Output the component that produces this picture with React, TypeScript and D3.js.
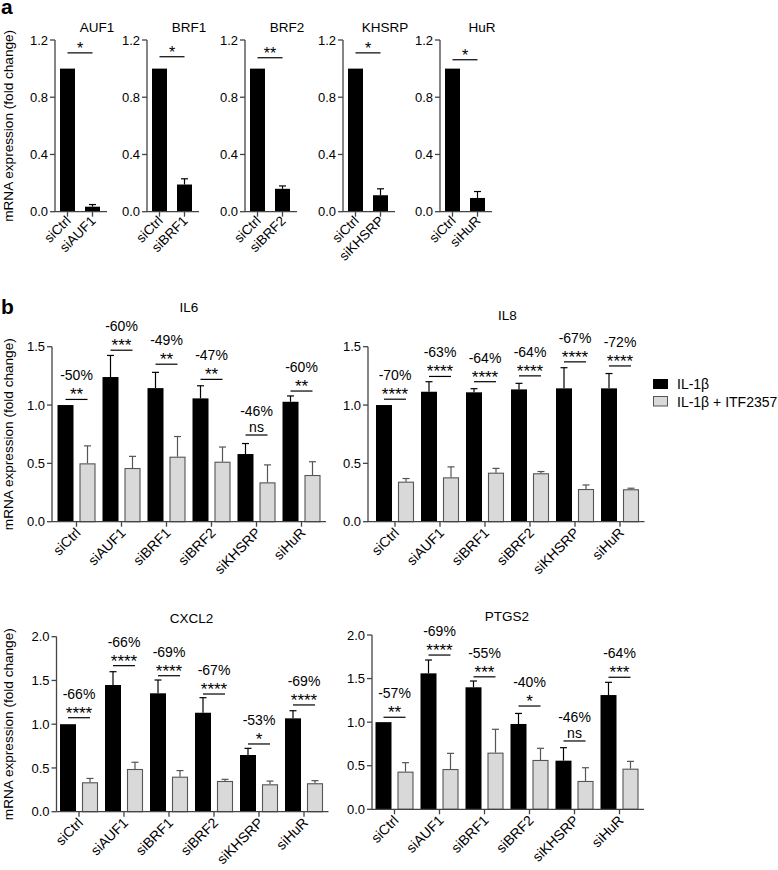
import React from 'react';
import * as d3 from 'd3';

const FONT = '"Liberation Sans", Arial, Helvetica, sans-serif';

// ---------- shared categories ----------
const groups = ['siCtrl', 'siAUF1', 'siBRF1', 'siBRF2', 'siKHSRP', 'siHuR'];
const seriesNames = ['IL-1β', 'IL-1β + ITF2357'];

// ---------- panel a ----------
const kdGenes = ['AUF1', 'BRF1', 'BRF2', 'KHSRP', 'HuR'];
const kdLabels = ['siAUF1', 'siBRF1', 'siBRF2', 'siKHSRP', 'siHuR'];
const kdCtrl = [1.0, 1.0, 1.0, 1.0, 1.0];
const kdValues = [0.035, 0.19, 0.16, 0.115, 0.096];
const kdErrors = [0.015, 0.04, 0.02, 0.045, 0.045];
const kdSig = ['*', '*', '**', '*', '*'];
const kdBracket = [1.11, 1.083, 1.076, 1.11, 1.062];
const aTicks = [0, 0.4, 0.8, 1.2];

// ---------- panel b : IL6 ----------
const il6Ctrl = [1.0, 1.24, 1.145, 1.057, 0.58, 1.028];
const il6CtrlErr = [0, 0.185, 0.135, 0.108, 0.09, 0.05];
const il6Itf = [0.5, 0.46, 0.557, 0.514, 0.337, 0.4];
const il6ItfErr = [0.15, 0.1, 0.173, 0.126, 0.15, 0.114];
const il6Pct = ['-50%', '-60%', '-49%', '-47%', '-46%', '-60%'];
const il6Sig = ['**', '***', '**', '**', 'ns', '**'];
const il6Bracket = [1.048, 1.47, 1.35, 1.22, 0.743, 1.12];

// ---------- panel b : IL8 ----------
const il8Ctrl = [1.0, 1.114, 1.109, 1.134, 1.143, 1.143];
const il8CtrlErr = [0, 0.086, 0.031, 0.052, 0.177, 0.127];
const il8Itf = [0.343, 0.38, 0.42, 0.415, 0.28, 0.278];
const il8ItfErr = [0.027, 0.09, 0.037, 0.015, 0.035, 0.009];
const il8Pct = ['-70%', '-63%', '-64%', '-64%', '-67%', '-72%'];
const il8Sig = ['****', '****', '****', '****', '****', '****'];
const il8Bracket = [1.05, 1.245, 1.2, 1.25, 1.37, 1.335];

// ---------- panel b : CXCL2 ----------
const cxCtrl = [1.0, 1.448, 1.353, 1.131, 0.648, 1.067];
const cxCtrlErr = [0, 0.152, 0.152, 0.172, 0.076, 0.087];
const cxItf = [0.336, 0.488, 0.4, 0.351, 0.313, 0.325];
const cxItfErr = [0.044, 0.077, 0.07, 0.019, 0.037, 0.03];
const cxPct = ['-66%', '-66%', '-69%', '-67%', '-53%', '-69%'];
const cxSig = ['****', '****', '****', '****', '*', '****'];
const cxBracket = [1.074, 1.669, 1.554, 1.345, 0.774, 1.22];

// ---------- panel b : PTGS2 ----------
const ptCtrl = [1.0, 1.56, 1.4, 0.979, 0.558, 1.311];
const ptCtrlErr = [0, 0.153, 0.072, 0.121, 0.149, 0.146];
const ptItf = [0.432, 0.462, 0.65, 0.566, 0.325, 0.466];
const ptItfErr = [0.103, 0.18, 0.268, 0.134, 0.152, 0.084];
const ptPct = ['-57%', '-69%', '-55%', '-40%', '-46%', '-64%'];
const ptSig = ['**', '****', '***', '*', 'ns', '***'];
const ptBracket = [1.056, 1.77, 1.52, 1.185, 0.784, 1.515];

const ticks15 = [0, 0.5, 1.0, 1.5];
const ticks20 = [0, 0.5, 1.0, 1.5, 2.0];

// ---------- layout ----------
const AXIS = '#444';
const GRAY_FILL = '#d9d9d9';
const GRAY_STROKE = '#555';
const panelAX = [55, 147, 245, 343, 440];
const aY0 = 211.7;
const aYTop = 40;

const fmt = d3.format('.1f');

function YAxis({ x, y, ticks, label, labelX }: any) {
  const [r0, r1] = y.range();
  return (
    <g>
      <line x1={x} x2={x} y1={r0} y2={r1} stroke={AXIS} strokeWidth={1.3} />
      {ticks.map((t: number) => (
        <g key={t}>
          <line x1={x - 5} x2={x} y1={y(t)} y2={y(t)} stroke={AXIS} strokeWidth={1.3} />
          <text x={x - 7} y={y(t)} dy="0.35em" textAnchor="end" fontSize={13}>{fmt(t)}</text>
        </g>
      ))}
      {label ? (
        <text transform={`translate(${labelX},${(r0 + r1) / 2}) rotate(-90)`} textAnchor="middle" fontSize={13.6}>
          {label}
        </text>
      ) : null}
    </g>
  );
}

function ErrBar({ cx, yTop, yEnd, color }: any) {
  return (
    <g stroke={color} strokeWidth={1.2}>
      <line x1={cx} x2={cx} y1={yTop} y2={yEnd} />
      <line x1={cx - 3.5} x2={cx + 3.5} y1={yEnd} y2={yEnd} />
    </g>
  );
}

function KnockdownChart({ i }: { i: number }) {
  const x0 = panelAX[i];
  const cats = ['siCtrl', kdLabels[i]];
  const x = d3.scaleBand<string>().domain(cats).range([x0, x0 + 50]).paddingInner(0.4).paddingOuter(0.2);
  const y = d3.scaleLinear().domain([0, 1.2]).range([aY0, aYTop]);
  const vals = [kdCtrl[i], kdValues[i]];
  const errs = [0, kdErrors[i]];
  const c0 = (x(cats[0]) as number) + x.bandwidth() / 2;
  const c1 = (x(cats[1]) as number) + x.bandwidth() / 2;
  const by = y(kdBracket[i]);
  return (
    <g>
      <text x={x0 + 42} y={31.5} textAnchor="middle" fontSize={13.5}>{kdGenes[i]}</text>
      {cats.map((c, k) => (
        <g key={c}>
          <rect x={x(c)} y={y(vals[k])} width={x.bandwidth()} height={y(0) - y(vals[k])} fill="#000" />
          {errs[k] > 0 ? (
            <ErrBar cx={(x(c) as number) + x.bandwidth() / 2} yTop={y(vals[k])} yEnd={y(vals[k] + errs[k])} color="#000" />
          ) : null}
        </g>
      ))}
      <line x1={x0} x2={x0 + 52} y1={y(0)} y2={y(0)} stroke={AXIS} strokeWidth={1.3} />
      {cats.map((c) => {
        const cx = (x(c) as number) + x.bandwidth() / 2;
        return (
          <g key={c}>
            <line x1={cx} x2={cx} y1={y(0)} y2={y(0) + 5} stroke={AXIS} strokeWidth={1.3} />
            <text transform={`translate(${cx + 4},${y(0) + 10}) rotate(-45)`} textAnchor="end" fontSize={13.5}>{c}</text>
          </g>
        );
      })}
      <YAxis x={x0} y={y} ticks={aTicks} label={i === 0 ? 'mRNA expression (fold change)' : null} labelX={13} />
      <line x1={c0} x2={c1} y1={by} y2={by} stroke="#000" strokeWidth={1.2} />
      <text x={(c0 + c1) / 2} y={by + 1.5} textAnchor="middle" fontSize={16}>{kdSig[i]}</text>
    </g>
  );
}

function GroupChart({ cfg }: any) {
  const x = d3.scaleBand<string>().domain(groups).range([cfg.bandStart, cfg.bandStart + 270]);
  const half = x.bandwidth() / 2;
  const x1 = d3.scaleBand<string>().domain(seriesNames).range([half - 19, half + 19]).paddingInner(0.2727);
  const y = d3.scaleLinear().domain([0, cfg.max]).range([cfg.y0, cfg.yTop]);
  const series = [
    { name: seriesNames[0], vals: cfg.ctrl, errs: cfg.ctrlErr, fill: '#000', stroke: 'none', err: '#000' },
    { name: seriesNames[1], vals: cfg.itf, errs: cfg.itfErr, fill: GRAY_FILL, stroke: GRAY_STROKE, err: GRAY_STROKE },
  ];
  const bw = x1.bandwidth();
  return (
    <g>
      <text x={cfg.bandStart + 135} y={cfg.titleY} textAnchor="middle" fontSize={13.5}>{cfg.title}</text>
      {groups.map((g, gi) => (
        <g key={g} transform={`translate(${x(g)},0)`}>
          {series.map((s) => {
            const bx = x1(s.name) as number;
            const v = s.vals[gi];
            const e = s.errs[gi];
            return (
              <g key={s.name}>
                {e > 0 ? <ErrBar cx={bx + bw / 2} yTop={y(v)} yEnd={y(v + e)} color={s.err} /> : null}
                <rect
                  x={s.stroke === 'none' ? bx : bx + 0.5}
                  y={s.stroke === 'none' ? y(v) : y(v) + 0.5}
                  width={s.stroke === 'none' ? bw : bw - 1}
                  height={s.stroke === 'none' ? y(0) - y(v) : y(0) - y(v) - 0.5}
                  fill={s.fill}
                  stroke={s.stroke}
                  strokeWidth={1.1}
                />
              </g>
            );
          })}
        </g>
      ))}
      <line x1={cfg.axisX} x2={cfg.bandStart + 272} y1={y(0)} y2={y(0)} stroke={AXIS} strokeWidth={1.3} />
      {groups.map((g) => {
        const cx = (x(g) as number) + half;
        return (
          <g key={g}>
            <line x1={cx} x2={cx} y1={y(0)} y2={y(0) + 5} stroke={AXIS} strokeWidth={1.3} />
            <text transform={`translate(${cx + 5},${y(0) + 12}) rotate(-45)`} textAnchor="end" fontSize={14}>{g}</text>
          </g>
        );
      })}
      <YAxis x={cfg.axisX} y={y} ticks={cfg.ticks} label={cfg.showLabel ? 'mRNA expression (fold change)' : null} labelX={13} />
      {groups.map((g, gi) => {
        const gx = x(g) as number;
        const ca = gx + (x1(seriesNames[0]) as number) + bw / 2;
        const cb = gx + (x1(seriesNames[1]) as number) + bw / 2;
        const ly = y(cfg.bracket[gi]);
        const sig = cfg.sig[gi];
        const cx = gx + half;
        return (
          <g key={g}>
            <line x1={ca} x2={cb} y1={ly} y2={ly} stroke="#000" strokeWidth={1.2} />
            {sig === 'ns' ? (
              <text x={cx} y={ly - 3} textAnchor="middle" fontSize={14}>ns</text>
            ) : (
              <text x={cx} y={ly + 1} textAnchor="middle" fontSize={17}>{sig}</text>
            )}
            <text x={cx} y={ly - 19} textAnchor="middle" fontSize={14}>{cfg.pct[gi]}</text>
          </g>
        );
      })}
    </g>
  );
}

const charts = [
  { title: 'IL6', ctrl: il6Ctrl, ctrlErr: il6CtrlErr, itf: il6Itf, itfErr: il6ItfErr, pct: il6Pct, sig: il6Sig, bracket: il6Bracket,
    axisX: 52, bandStart: 54, y0: 521.7, yTop: 346.7, max: 1.5, ticks: ticks15, titleY: 311.5, showLabel: true },
  { title: 'IL8', ctrl: il8Ctrl, ctrlErr: il8CtrlErr, itf: il8Itf, itfErr: il8ItfErr, pct: il8Pct, sig: il8Sig, bracket: il8Bracket,
    axisX: 368, bandStart: 372.5, y0: 521.7, yTop: 346.7, max: 1.5, ticks: ticks15, titleY: 320, showLabel: false },
  { title: 'CXCL2', ctrl: cxCtrl, ctrlErr: cxCtrlErr, itf: cxItf, itfErr: cxItfErr, pct: cxPct, sig: cxSig, bracket: cxBracket,
    axisX: 56.5, bandStart: 56.5, y0: 811.7, yTop: 636.7, max: 2.0, ticks: ticks20, titleY: 622.5, showLabel: true },
  { title: 'PTGS2', ctrl: ptCtrl, ctrlErr: ptCtrlErr, itf: ptItf, itfErr: ptItfErr, pct: ptPct, sig: ptSig, bracket: ptBracket,
    axisX: 372, bandStart: 372, y0: 809.3, yTop: 635, max: 2.0, ticks: ticks20, titleY: 620.5, showLabel: false },
];

export default function App() {
  return (
    <svg width={778} height={870} style={{ position: 'absolute', left: 0, top: 0, background: '#fff' }} fontFamily={FONT}>
      <rect x={0} y={0} width={778} height={870} fill="#fff" />
      <text x={1} y={13.5} fontSize={21} fontWeight="bold">a</text>
      <text x={1} y={314} fontSize={21} fontWeight="bold">b</text>
      {kdGenes.map((g, i) => (
        <KnockdownChart key={g} i={i} />
      ))}
      {charts.map((c) => (
        <GroupChart key={c.title} cfg={c} />
      ))}
      <g>
        <rect x={653} y={379} width={15} height={10} fill="#000" />
        <text x={677} y={389} fontSize={14}>{seriesNames[0]}</text>
        <rect x={653.5} y={396.5} width={14} height={9.5} fill={GRAY_FILL} stroke={GRAY_STROKE} strokeWidth={1} />
        <text x={677} y={406.5} fontSize={14}>{seriesNames[1]}</text>
      </g>
    </svg>
  );
}
